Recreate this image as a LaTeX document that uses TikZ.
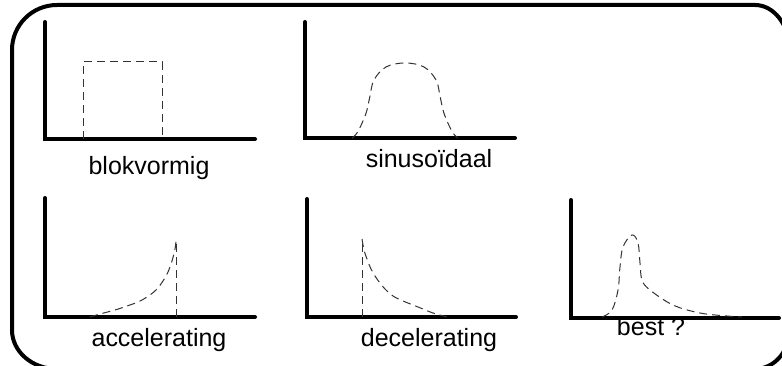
\documentclass[tikz,border=0pt]{standalone}
\usepackage{fontspec}
\setmainfont{Liberation Sans}
\begin{document}
\begin{tikzpicture}[x=1pt,y=1pt,
  axis/.style={line width=4pt,line cap=round,black},
  frameline/.style={line width=4pt,black},
  profile/.style={line width=1pt,black!80,dash pattern=on 8pt off 5pt},
  lbl/.style={anchor=base,inner sep=0pt,font=\fontsize{25}{30}\selectfont}]
\useasboundingbox (0,0) rectangle (782,366);
\begin{scope}
\clip (0,0) rectangle (782,366);
\draw[frameline] (12,36) -- (12,316) arc[start angle=180,end angle=90,radius=45pt]
  -- (755,361) arc[start angle=90,end angle=0,x radius=34.5pt,y radius=45pt]
  -- (789.5,36) arc[start angle=0,end angle=-90,x radius=34.5pt,y radius=39pt]
  -- (57,-3) arc[start angle=270,end angle=180,x radius=45pt,y radius=39pt] -- cycle;
\end{scope}
% graph 1: blokvormig
\draw[axis] (45,344) -- (45,227) -- (255,227);
\draw[profile] (83,227) -- (83,304) -- (162,304) -- (162,227);
\node[lbl] (lbl1) at (149,191) {blokvormig};
% graph 2: sinusoidaal
\draw[axis] (305,344) -- (305,228) -- (515,228);
\draw[profile] plot[smooth,tension=0.6] coordinates {(352,228) (357,233) (363,245) (367,256) (370,270) (374,286) (386,299) (405,303) (424,299) (436,286) (440,270) (443,256) (447,245) (453,233) (458,228)};
\node[lbl] (lbl2) at (429,198) {sinusoïdaal};
% graph 3: accelerating
\draw[axis] (45,168) -- (45,49) -- (255,49);
\draw[profile] (176,49) -- (176,126);
\draw[profile] plot[smooth,tension=0.6] coordinates {(90,49) (100,52) (115,56) (127,60) (138,64) (147,69) (156,76) (163,85) (168,94) (172,105) (175,117) (176,125)};
\node[lbl] (lbl3) at (159,19) {accelerating};
% graph 4: decelerating
\draw[axis] (307,167) -- (307,49) -- (516,49);
\draw[profile] (362,49) -- (362,127);
\draw[profile] plot[smooth,tension=0.6] coordinates {(362,127) (364,116) (367,107) (371,97) (377,87) (385,77) (393,70) (403,65) (413,61) (423,57) (433,53) (447,49)};
\node[lbl] (lbl4) at (429,19) {decelerating};
% graph 5: best ?
\node[lbl] (lbl5) at (651,30) {best ?};
\draw[axis] (571,166) -- (571,48) -- (779,48);
\draw[profile] plot[smooth,tension=0.6] coordinates {(602,49) (612,56) (618,76) (620,99) (623,119) (632,131) (638,123) (640,103) (642,86) (650,76) (673,61) (700,53) (727,50) (742,49)};
\end{tikzpicture}
\end{document}
